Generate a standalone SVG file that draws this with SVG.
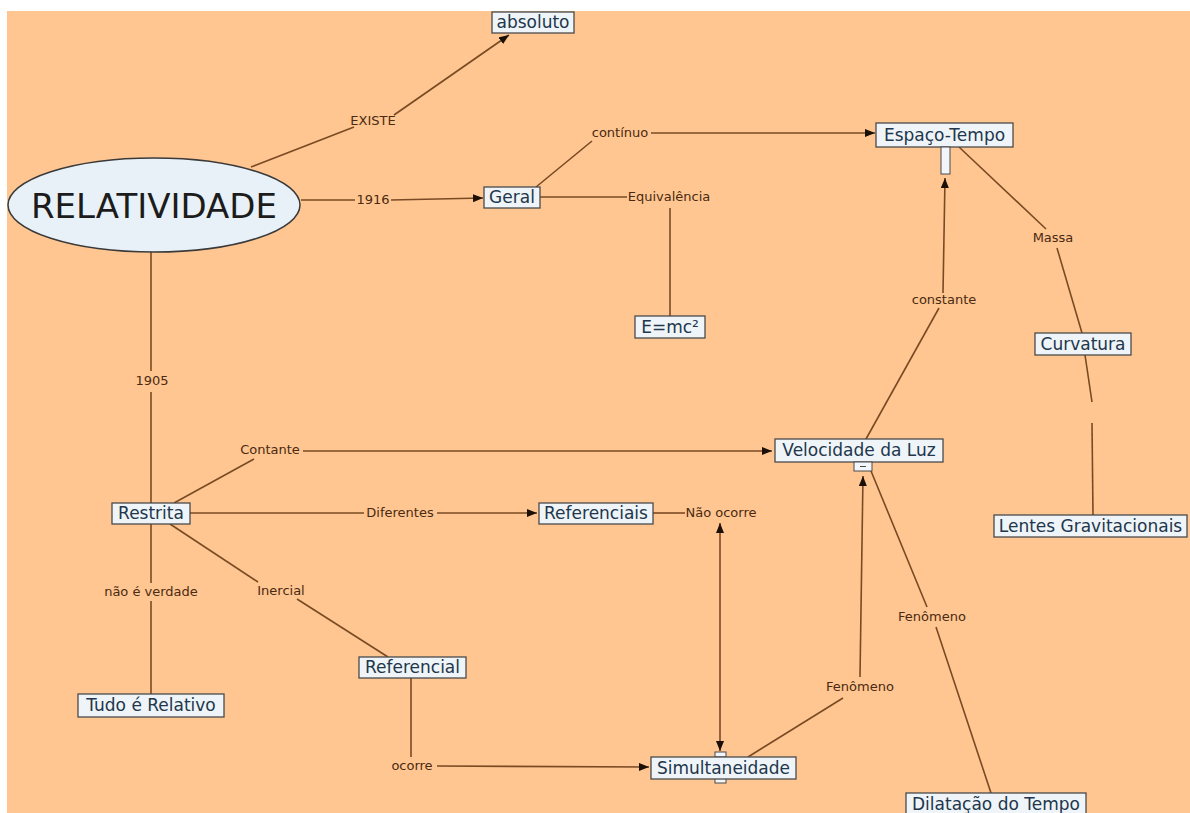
<svg xmlns="http://www.w3.org/2000/svg" width="1190" height="813" viewBox="0 0 1190 813">
  <defs>
    <style>
      .bg { fill: #FFC692; }
      .box { fill: #EEF4F8; stroke: #4a4a4a; stroke-width: 1.3; }
      .tab { fill: #F2F5FA; stroke: #4a4a4a; stroke-width: 1; }
      .node { font-family: "DejaVu Sans", Verdana, sans-serif; font-size: 17px; fill: #22364c; text-anchor: middle; }
      .big { font-family: "DejaVu Sans", Verdana, sans-serif; font-size: 34px; fill: #1c1c1c; text-anchor: middle; }
      .lbl { font-family: "DejaVu Sans", Verdana, sans-serif; font-size: 13px; fill: #4a2a10; text-anchor: middle; }
      .ln { stroke: #7a4a22; stroke-width: 1.6; fill: none; }
      .arr { marker-end: url(#head); }
    </style>
    <marker id="head" viewBox="0 0 10 8" refX="10" refY="4" markerWidth="10" markerHeight="8" markerUnits="userSpaceOnUse" orient="auto-start-reverse">
      <path d="M0,0 L10,4 L0,8 z" fill="#1a1008"/>
    </marker>
  </defs>

  <!-- canvas -->
  <rect x="0" y="0" width="1190" height="813" fill="#ffffff"/>
  <rect class="bg" x="7" y="11" width="1183" height="802"/>

  <!-- connectors and linking phrases -->
  <g id="connectors">
    <line class="ln" x1="251" y1="167" x2="354" y2="127"/>
    <line class="ln arr" x1="394" y1="115" x2="509" y2="35"/>
    <text class="lbl" x="373" y="125">EXISTE</text>

    <line class="ln" x1="301" y1="200" x2="355" y2="200"/>
    <line class="ln arr" x1="391" y1="200" x2="483" y2="198"/>
    <text class="lbl" x="373" y="204">1916</text>

    <line class="ln" x1="536" y1="187" x2="592" y2="141"/>
    <text class="lbl" x="620" y="137">contínuo</text>
    <line class="ln arr" x1="651" y1="133" x2="875" y2="133"/>

    <line class="ln" x1="540" y1="197" x2="627" y2="197"/>
    <text class="lbl" x="669" y="201">Equivalência</text>
    <line class="ln" x1="670" y1="208" x2="670" y2="316"/>

    <line class="ln" x1="959" y1="147" x2="1046" y2="229"/>
    <text class="lbl" x="1053" y="242">Massa</text>
    <line class="ln" x1="1057" y1="248" x2="1082" y2="333"/>

    <line class="ln" x1="1085" y1="355" x2="1092" y2="402"/>
    <line class="ln" x1="1092" y1="423" x2="1093" y2="515"/>

    <line class="ln" x1="151" y1="252" x2="151" y2="371"/>
    <text class="lbl" x="152" y="385">1905</text>
    <line class="ln" x1="151" y1="392" x2="151" y2="503"/>

    <line class="ln" x1="174" y1="503" x2="254" y2="459"/>
    <text class="lbl" x="270" y="454">Contante</text>
    <line class="ln arr" x1="303" y1="451" x2="772" y2="451"/>

    <line class="ln" x1="190" y1="513" x2="364" y2="513"/>
    <text class="lbl" x="400" y="517">Diferentes</text>
    <line class="ln arr" x1="437" y1="513" x2="537" y2="513"/>

    <line class="ln" x1="170" y1="524" x2="258" y2="582"/>
    <text class="lbl" x="281" y="595">Inercial</text>
    <line class="ln" x1="297" y1="599" x2="388" y2="657"/>

    <line class="ln" x1="151" y1="524" x2="151" y2="583"/>
    <text class="lbl" x="151" y="596">não é verdade</text>
    <line class="ln" x1="151" y1="601" x2="151" y2="694"/>

    <line class="ln" x1="411" y1="678" x2="411" y2="757"/>
    <text class="lbl" x="412" y="770">ocorre</text>
    <line class="ln arr" x1="437" y1="766" x2="649" y2="767"/>

    <line class="ln" x1="653" y1="513" x2="685" y2="513"/>
    <text class="lbl" x="721" y="517">Não ocorre</text>
    <line class="ln arr" x1="720" y1="751" x2="720" y2="523" marker-start="url(#head)"/>

    <line class="ln" x1="748" y1="757" x2="843" y2="698"/>
    <text class="lbl" x="860" y="691">Fenômeno</text>
    <line class="ln arr" x1="860" y1="677" x2="863" y2="476"/>

    <line class="ln" x1="866" y1="439" x2="939" y2="308"/>
    <text class="lbl" x="944" y="304">constante</text>
    <line class="ln arr" x1="943" y1="293" x2="945" y2="178"/>

    <line class="ln" x1="871" y1="471" x2="927" y2="607"/>
    <text class="lbl" x="932" y="621">Fenômeno</text>
    <line class="ln" x1="936" y1="627" x2="991" y2="793"/>
  </g>

  <!-- concepts -->
  <g id="n-relatividade">
    <ellipse cx="154" cy="205" rx="146" ry="47" fill="#E8F1F8" stroke="#3a3a3a" stroke-width="1.5"/>
    <text class="big" x="154" y="218">RELATIVIDADE</text>
  </g>
  <g id="n-absoluto">
    <rect class="box" x="492" y="12" width="82" height="21"/>
    <text class="node" x="533" y="28">absoluto</text>
  </g>
  <g id="n-geral">
    <rect class="box" x="484" y="187" width="56" height="21"/>
    <text class="node" x="512" y="203">Geral</text>
  </g>
  <g id="n-espaco-tempo">
    <rect class="box" x="876" y="123" width="137" height="24"/>
    <text class="node" x="944.5" y="141">Espaço-Tempo</text>
    <rect class="tab" x="941" y="147" width="9" height="27"/>
  </g>
  <g id="n-emc2">
    <rect class="box" x="635" y="316" width="70" height="22"/>
    <text class="node" x="670" y="333">E=mc²</text>
  </g>
  <g id="n-curvatura">
    <rect class="box" x="1035" y="333" width="96" height="22"/>
    <text class="node" x="1083" y="350">Curvatura</text>
  </g>
  <g id="n-velocidade">
    <rect class="box" x="775" y="439" width="168" height="23"/>
    <text class="node" x="859" y="456">Velocidade da Luz</text>
    <rect class="tab" x="854" y="462" width="18" height="9"/>
    <line x1="860" y1="466.5" x2="866" y2="466.5" stroke="#4a4a4a" stroke-width="1"/>
  </g>
  <g id="n-lentes">
    <rect class="box" x="994" y="515" width="193" height="22"/>
    <text class="node" x="1090.5" y="532">Lentes Gravitacionais</text>
  </g>
  <g id="n-restrita">
    <rect class="box" x="112" y="503" width="78" height="21"/>
    <text class="node" x="151" y="519">Restrita</text>
  </g>
  <g id="n-referenciais">
    <rect class="box" x="539" y="503" width="114" height="21"/>
    <text class="node" x="596" y="519">Referenciais</text>
  </g>
  <g id="n-referencial">
    <rect class="box" x="359" y="657" width="107" height="21"/>
    <text class="node" x="412.5" y="673">Referencial</text>
  </g>
  <g id="n-tudo">
    <rect class="box" x="78" y="694" width="146" height="23"/>
    <text class="node" x="151" y="711">Tudo é Relativo</text>
  </g>
  <g id="n-simultaneidade">
    <rect class="tab" x="715" y="752" width="11" height="5"/>
    <rect class="tab" x="715" y="778" width="11" height="5"/>
    <rect class="box" x="651" y="757" width="145" height="22"/>
    <text class="node" x="723.5" y="774">Simultaneidade</text>
  </g>
  <g id="n-dilatacao">
    <rect class="box" x="906" y="793" width="180" height="24"/>
    <text class="node" x="996" y="810">Dilatação do Tempo</text>
  </g>
</svg>
